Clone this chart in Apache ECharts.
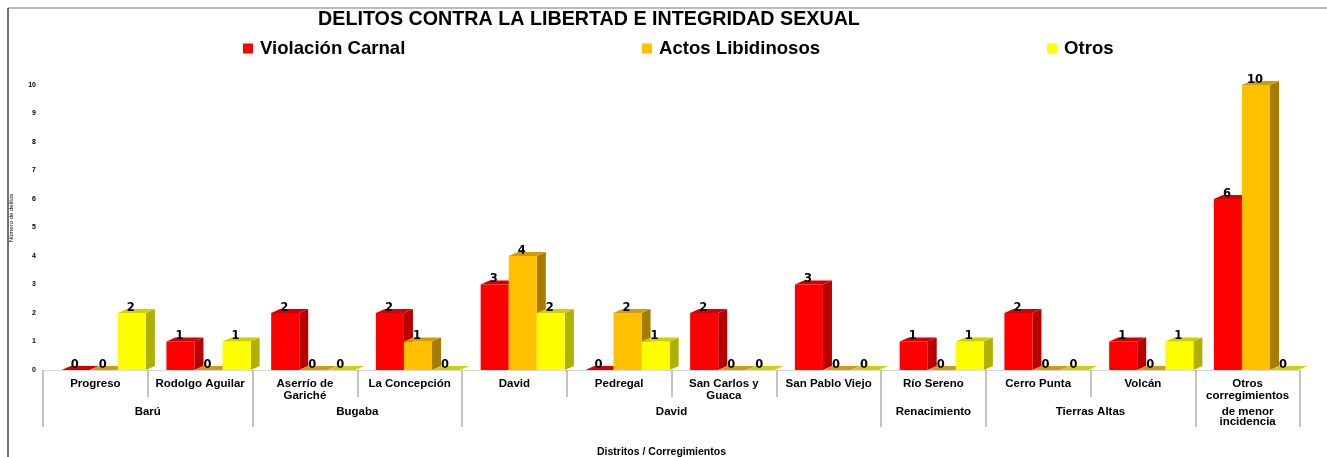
<!DOCTYPE html>
<html>
<head>
<meta charset="utf-8">
<title>Delitos contra la libertad e integridad sexual</title>
<script src="https://cdn.jsdelivr.net/npm/echarts@6/dist/echarts.min.js"></script>
<style>
  html, body { margin: 0; padding: 0; background: #fff; }
  #chart { width: 1327px; height: 457px; }
</style>
</head>
<body>
<div id="chart"></div>
<script>
// corregimientos (primer nivel del eje x)
var corregimientos = ['Progreso', 'Rodolgo Aguilar', 'Aserrío de\nGariché', 'La Concepción', 'David',
    'Pedregal', 'San Carlos y\nGuaca', 'San Pablo Viejo', 'Río Sereno', 'Cerro Punta', 'Volcán',
    'Otros\ncorregimientos'];
// distritos (segundo nivel) y cuantos corregimientos abarca cada uno
var distritos = ['Barú', 'Bugaba', 'David', 'Renacimiento', 'Tierras Altas', 'de menor\nincidencia'];
var distritoSpan = [2, 2, 4, 1, 2, 1];

var violacionCarnal   = [0, 1, 2, 2, 3, 0, 2, 3, 1, 2, 1, 6];
var actosLibidinosos  = [0, 0, 0, 1, 4, 2, 0, 0, 0, 0, 0, 10];
var otros             = [2, 1, 0, 0, 2, 1, 0, 0, 1, 0, 1, 0];

var yTicks = [0, 1, 2, 3, 4, 5, 6, 7, 8, 9, 10];

// limites y centros de los distritos en unidades de categoria
var limites = [0], centros = [];
distritoSpan.forEach(function(s, i){
    var ini = limites[limites.length - 1];
    limites.push(ini + s);
    centros.push(ini + s / 2);
});

var seriesDef = [
    {name: 'Violación Carnal', data: violacionCarnal, front: '#ff0000', side: '#b80000', top: '#d40000'},
    {name: 'Actos Libidinosos', data: actosLibidinosos, front: '#ffc000', side: '#a67c00', top: '#cf9c10'},
    {name: 'Otros', data: otros, front: '#ffff00', side: '#b0b000', top: '#d0d000'}
];

// barra con aspecto 3D (cara frontal, lateral y superior)
function barra3D(idx, def){
    return function(params, api){
        var cat = api.value(0), val = api.value(1);
        var base = api.coord([cat, 0]);
        var tope = api.coord([cat, val]);
        var cw = api.size([1, 0])[0];
        var w = cw * 0.268;
        var x0 = base[0] - 1.5 * w + idx * w + cw * 0.08;
        var dx = 9, dy = 4;
        var yT = tope[1], yB = base[1];
        var children = [];
        if (yB - yT > 0.5) {
            children.push({type: 'polygon', shape: {points: [[x0 + w, yT], [x0 + w + dx, yT - dy], [x0 + w + dx, yB - dy], [x0 + w, yB]]},
                style: {fill: def.side}});
            children.push({type: 'rect', shape: {x: x0, y: yT, width: w, height: yB - yT}, style: {fill: def.front}});
        }
        children.push({type: 'polygon', shape: {points: [[x0, yT], [x0 + w, yT], [x0 + w + dx, yT - dy], [x0 + dx, yT - dy]]},
            style: {fill: def.top}});
        children.push({type: 'text', x: x0 + w / 2 - 1, y: yT - 5,
            style: {text: String(val), fill: '#000', font: 'bold 11.5px "DejaVu Sans"', align: 'center', verticalAlign: 'middle'}});
        return {type: 'group', children: children};
    };
}

var chart = echarts.init(document.getElementById('chart'));

var legends = [243, 642, 1047].map(function(x, i){
    return {
        data: [seriesDef[i].name], left: x, top: 39, padding: 0,
        itemWidth: 10, itemHeight: 10, icon: 'rect', itemGap: 0,
        textStyle: {fontFamily: 'Liberation Sans', fontWeight: 'bold', fontSize: 18.6, color: '#000', padding: [0, 0, 0, 2]}
    };
});

var option = {
    animation: false,
    backgroundColor: '#fff',
    title: {
        text: 'DELITOS CONTRA LA LIBERTAD E INTEGRIDAD SEXUAL',
        left: 589, top: 10, padding: 0, textAlign: 'center',
        textStyle: {fontFamily: 'Liberation Sans', fontWeight: 'bold', fontSize: 19.7, color: '#000'}
    },
    legend: legends,
    grid: {left: 43, right: 27, top: 85, bottom: 87, outerBoundsMode: 'none', containLabel: false},
    xAxis: [{
        type: 'category',
        data: corregimientos,
        offset: 3,
        name: 'Distritos / Corregimientos',
        nameLocation: 'middle',
        nameGap: 74,
        nameTextStyle: {fontFamily: 'Liberation Sans', fontWeight: 'bold', fontSize: 10.5, color: '#000', padding: [0, 20, 0, 0]},
        axisLine: {show: true, lineStyle: {color: '#d9d9d9', width: 1}},
        axisTick: {show: true, interval: 0, length: 27, lineStyle: {color: '#b0b0b0', width: 1.5}},
        axisLabel: {interval: 0, margin: 5, lineHeight: 12, fontFamily: 'Liberation Sans', fontWeight: 'bold', fontSize: 11.5, color: '#000'},
        splitLine: {show: false}
    }, {
        type: 'value',
        min: 0, max: 12,
        position: 'bottom',
        offset: 3,
        axisLine: {show: false},
        splitLine: {show: false},
        axisTick: {show: true, customValues: limites, length: 54, lineStyle: {color: '#b0b0b0', width: 1.5}},
        axisLabel: {
            customValues: centros, margin: 34, lineHeight: 10,
            fontFamily: 'Liberation Sans', fontWeight: 'bold', fontSize: 11.5, color: '#000',
            formatter: function(v){
                var i = centros.indexOf(v);
                return i >= 0 ? distritos[i] : '';
            }
        }
    }],
    yAxis: {
        type: 'value',
        min: yTicks[0], max: yTicks[yTicks.length - 1], interval: 1,
        name: 'Número de delitos',
        nameLocation: 'middle',
        nameRotate: 90,
        nameGap: 29,
        nameTextStyle: {fontFamily: 'Liberation Sans', fontSize: 6, color: '#000', padding: [0, 0, 0, 19]},
        axisLine: {show: false},
        axisTick: {show: false},
        splitLine: {show: false},
        axisLabel: {margin: 7, fontFamily: 'Liberation Sans', fontWeight: 'bold', fontSize: 7, color: '#000', padding: [6, 0, 0, 0]}
    },
    series: seriesDef.map(function(def, i){
        return {
            type: 'custom',
            name: def.name,
            xAxisIndex: 0,
            yAxisIndex: 0,
            itemStyle: {color: def.front},
            encode: {x: 0, y: 1},
            data: def.data.map(function(v, k){ return [k, v]; }),
            renderItem: barra3D(i, def)
        };
    }),
    graphic: [
        {type: 'line', shape: {x1: 8, y1: 8, x2: 1327, y2: 8}, style: {stroke: '#a6a6a6', lineWidth: 1.5}},
        {type: 'line', shape: {x1: 8, y1: 8, x2: 8, y2: 457}, style: {stroke: '#404040', lineWidth: 1.5}}
    ]
};

chart.setOption(option);
</script>
</body>
</html>
